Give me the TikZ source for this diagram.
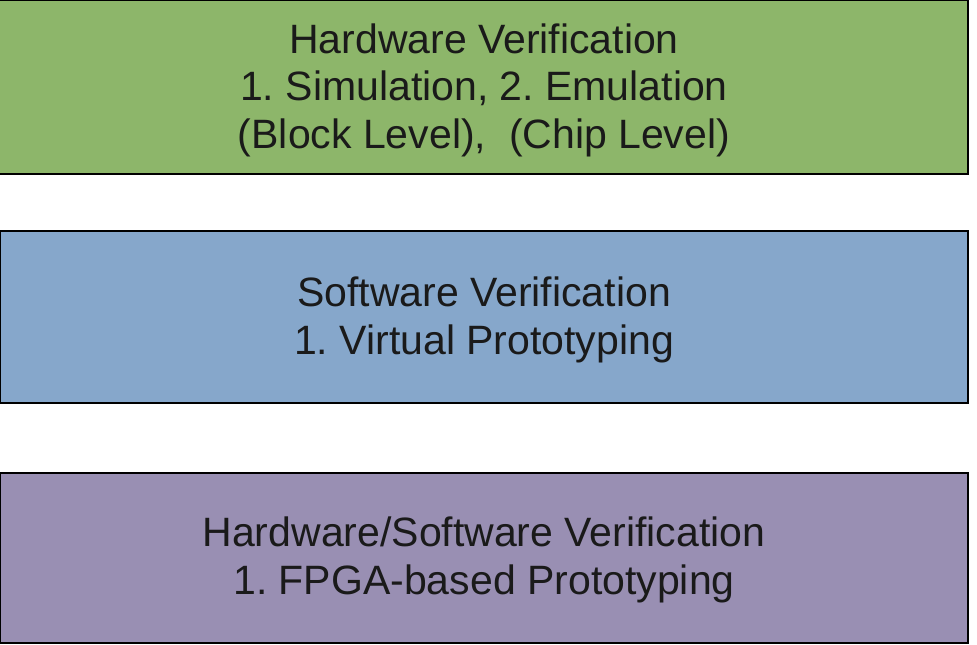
\documentclass[tikz,border=0pt]{standalone}
\usepackage{fontspec}
\setmainfont{Liberation Sans}
\frenchspacing
\definecolor{hwgreen}{RGB}{141,182,106}
\definecolor{swblue}{RGB}{134,167,203}
\definecolor{cvpurple}{RGB}{153,143,179}
\definecolor{txt}{RGB}{26,26,26}
\tikzset{
  layerbox/.style={draw=black, line width=1.3pt},
  layertext/.style={text=txt, align=center, font=\fontsize{41}{47.5}\selectfont, inner sep=0pt}
}
\begin{document}
\begin{tikzpicture}[x=1pt,y=-1pt]
\useasboundingbox (0,0) rectangle (977,645);
\filldraw[layerbox, fill=hwgreen] (-2,0.8) rectangle (968,174);
\filldraw[layerbox, fill=swblue] (0.8,231) rectangle (968,403);
\filldraw[layerbox, fill=cvpurple] (0.8,473) rectangle (968,643);
\node[layertext] (hw) at (484,90) {Hardware Verification\\1. Simulation, 2. Emulation\\(Block Level),\ \ (Chip Level)};
\node[layertext] (sw) at (484,320) {Software Verification\\1. Virtual Prototyping};
\node[layertext] (hs) at (484,560) {Hardware/Software Verification\\1. FPGA-based Prototyping};
\end{tikzpicture}
\end{document}
